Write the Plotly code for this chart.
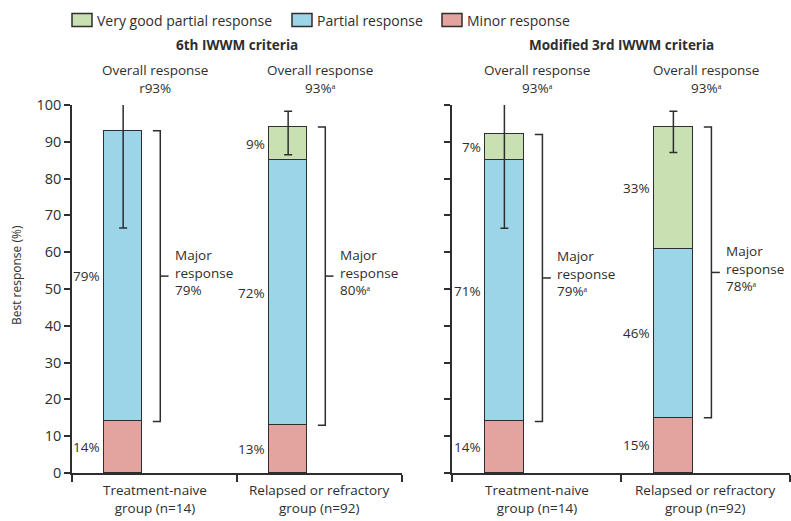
import plotly.graph_objects as go

# ---- data -------------------------------------------------------------
groups = ["Treatment-naive<br>group (n=14)", "Relapsed or refractory<br>group (n=92)"]
panels = ["6th IWWM criteria", "Modified 3rd IWWM criteria"]
series = ["Minor response", "Partial response", "Very good partial response"]

# per panel: values for [treatment-naive, relapsed/refractory]
minor_6th = [14, 13]
partial_6th = [79, 72]
vgpr_6th = [0, 9]

minor_3rd = [14, 15]
partial_3rd = [71, 46]
vgpr_3rd = [7, 33]

overall_text = [["r93%", "93%ᵃ"], ["93%ᵃ", "93%ᵃ"]]
major_text = [["79%", "80%ᵃ"], ["79%ᵃ", "78%ᵃ"]]

# 95% CI of overall response
ci_low_6th = [66.6, 86.5]
ci_high_6th = [100.7, 98.3]
ci_low_3rd = [66.5, 87.1]
ci_high_3rd = [100.7, 98.3]

y_ticks = [0, 10, 20, 30, 40, 50, 60, 70, 80, 90, 100]

# ---- styling ----------------------------------------------------------
colors = {"Minor response": "#e3a39f",
          "Partial response": "#9dd5e8",
          "Very good partial response": "#c9e1b2"}
ink = "#2e2e2e"
text_col = "#2e2e2e"
FONT = "Open Sans"
FS = 13.5
W, H = 791, 521
M_T, M_B = 105, 48
panel_px = [(72, 402), (452, 790)]
bar_shift = -0.19
bar_w = 0.227

fig = go.Figure()

panel_data = [
    (minor_6th, partial_6th, vgpr_6th, ci_low_6th, ci_high_6th),
    (minor_3rd, partial_3rd, vgpr_3rd, ci_low_3rd, ci_high_3rd),
]

annotations = []
shapes = []

for p, (minor, partial, vgpr, lo, hi) in enumerate(panel_data):
    xa = "x" if p == 0 else "x2"
    ya = "y" if p == 0 else "y2"
    xs = [i + bar_shift for i in range(len(groups))]
    stack = [minor, partial, vgpr]
    for name, vals in zip(series, stack):
        fig.add_trace(go.Bar(
            x=xs, y=vals, width=bar_w, name=name,
            marker=dict(color=colors[name], line=dict(color=ink, width=1.5)),
            xaxis=xa, yaxis=ya, showlegend=False, hoverinfo="skip",
        ))
    totals = [a + b + c for a, b, c in zip(minor, partial, vgpr)]
    fig.add_trace(go.Scatter(
        x=xs, y=totals, mode="markers", marker=dict(size=1, opacity=0),
        error_y=dict(type="data", symmetric=False,
                     array=[h - t for h, t in zip(hi, totals)],
                     arrayminus=[t - l for l, t in zip(lo, totals)],
                     color=ink, thickness=1.5, width=4),
        xaxis=xa, yaxis=ya, showlegend=False, cliponaxis=False, hoverinfo="skip",
    ))

    for i in range(len(groups)):
        bx = xs[i]
        # segment percentage labels, left of the bar
        base = 0
        for vals in stack:
            v = vals[i]
            if v > 0:
                annotations.append(dict(
                    x=bx - bar_w / 2, y=base + v / 2, xref=xa, yref=ya,
                    text=f"{v}%", showarrow=False, xanchor="right", xshift=-2,
                    font=dict(family=FONT, size=FS, color=text_col)))
            base += v
        # major response bracket (partial + very good partial)
        y_lo = minor[i]
        y_hi = minor[i] + partial[i] + vgpr[i]
        y_mid = (y_lo + y_hi) / 2
        brx = bx + 0.225
        shapes.append(dict(
            type="path", xref=xa, yref=ya,
            path=f"M {brx - 0.045},{y_lo} L {brx},{y_lo} L {brx},{y_hi} L {brx - 0.045},{y_hi}",
            line=dict(color=ink, width=1.5)))
        shapes.append(dict(
            type="line", xref=xa, yref=ya, x0=brx, x1=brx + 0.05, y0=y_mid, y1=y_mid,
            line=dict(color=ink, width=1.5)))
        annotations.append(dict(
            x=brx, y=y_mid, xref=xa, yref=ya, xshift=13, yshift=4,
            text=f"Major<br>response<br>{major_text[p][i]}", align="left",
            showarrow=False, xanchor="left", yanchor="middle",
            font=dict(family=FONT, size=FS, color=text_col)))
        # overall response heading
        annotations.append(dict(
            x=i, y=1, xref=xa, yref=ya + " domain", yanchor="middle", yshift=26,
            text=f"Overall response<br>{overall_text[p][i]}", showarrow=False,
            font=dict(family=FONT, size=FS, color=text_col)))
        # group label under the axis
        annotations.append(dict(
            x=i, y=0, xref=xa, yref=ya + " domain", yanchor="top", yshift=-6,
            text=groups[i], showarrow=False,
            font=dict(family=FONT, size=FS, color=text_col)))

    # panel title
    annotations.append(dict(
        x=0.5, y=1, xref=xa, yref=ya + " domain", yanchor="middle", yshift=60,
        text=f"<b>{panels[p]}</b>", showarrow=False,
        font=dict(family=FONT, size=FS, color=text_col)))

# y-axis title
annotations.append(dict(
    x=16 / W, y=0.538, xref="paper", yref="paper", textangle=-90,
    text="Best response (%)", showarrow=False, xanchor="center", yanchor="middle",
    font=dict(family=FONT, size=12, color=text_col)))

# legend row
legend_order = ["Very good partial response", "Partial response", "Minor response"]
legend_px = [72, 292, 442]
leg_y = H - 20
for name, lx in zip(legend_order, legend_px):
    shapes.append(dict(
        type="rect", xref="paper", yref="paper",
        x0=lx / W, x1=(lx + 20) / W,
        y0=(leg_y - 6.5 - M_B) / (H - M_T - M_B), y1=(leg_y + 6.5 - M_B) / (H - M_T - M_B),
        fillcolor=colors[name], line=dict(color=ink, width=1.5)))
    annotations.append(dict(
        x=(lx + 23) / W, y=(leg_y - M_B) / (H - M_T - M_B), xref="paper", yref="paper",
        text=name, showarrow=False, xanchor="left", yanchor="middle",
        font=dict(family=FONT, size=14, color=text_col)))

x_common = dict(range=[-0.5, 1.5], tickvals=[-0.5, 0.5, 1.5], ticks="outside",
                ticklen=7, tickwidth=1.5, tickcolor=ink, showticklabels=False,
                showline=True, linecolor=ink, linewidth=1.5, showgrid=False,
                zeroline=False, fixedrange=True)
y_common = dict(range=[0, 100], tickvals=y_ticks, ticks="outside", ticklen=6,
                tickwidth=1.5, tickcolor=ink, showline=True, linecolor=ink,
                linewidth=1.5, showgrid=False, zeroline=False, domain=[0, 1],
                tickfont=dict(family=FONT, size=14.5, color=text_col))

fig.update_layout(
    width=W, height=H, barmode="stack", bargap=0,
    margin=dict(l=0, r=0, t=M_T, b=M_B),
    paper_bgcolor="white", plot_bgcolor="white",
    font=dict(family=FONT, color=text_col),
    xaxis=dict(domain=[panel_px[0][0] / W, panel_px[0][1] / W], anchor="y", **x_common),
    xaxis2=dict(domain=[panel_px[1][0] / W, panel_px[1][1] / W], anchor="y2", **x_common),
    yaxis=dict(anchor="x", **y_common),
    yaxis2=dict(anchor="x2", showticklabels=False, **y_common),
    annotations=annotations, shapes=shapes, showlegend=False,
)

fig.write_html("out.html")
